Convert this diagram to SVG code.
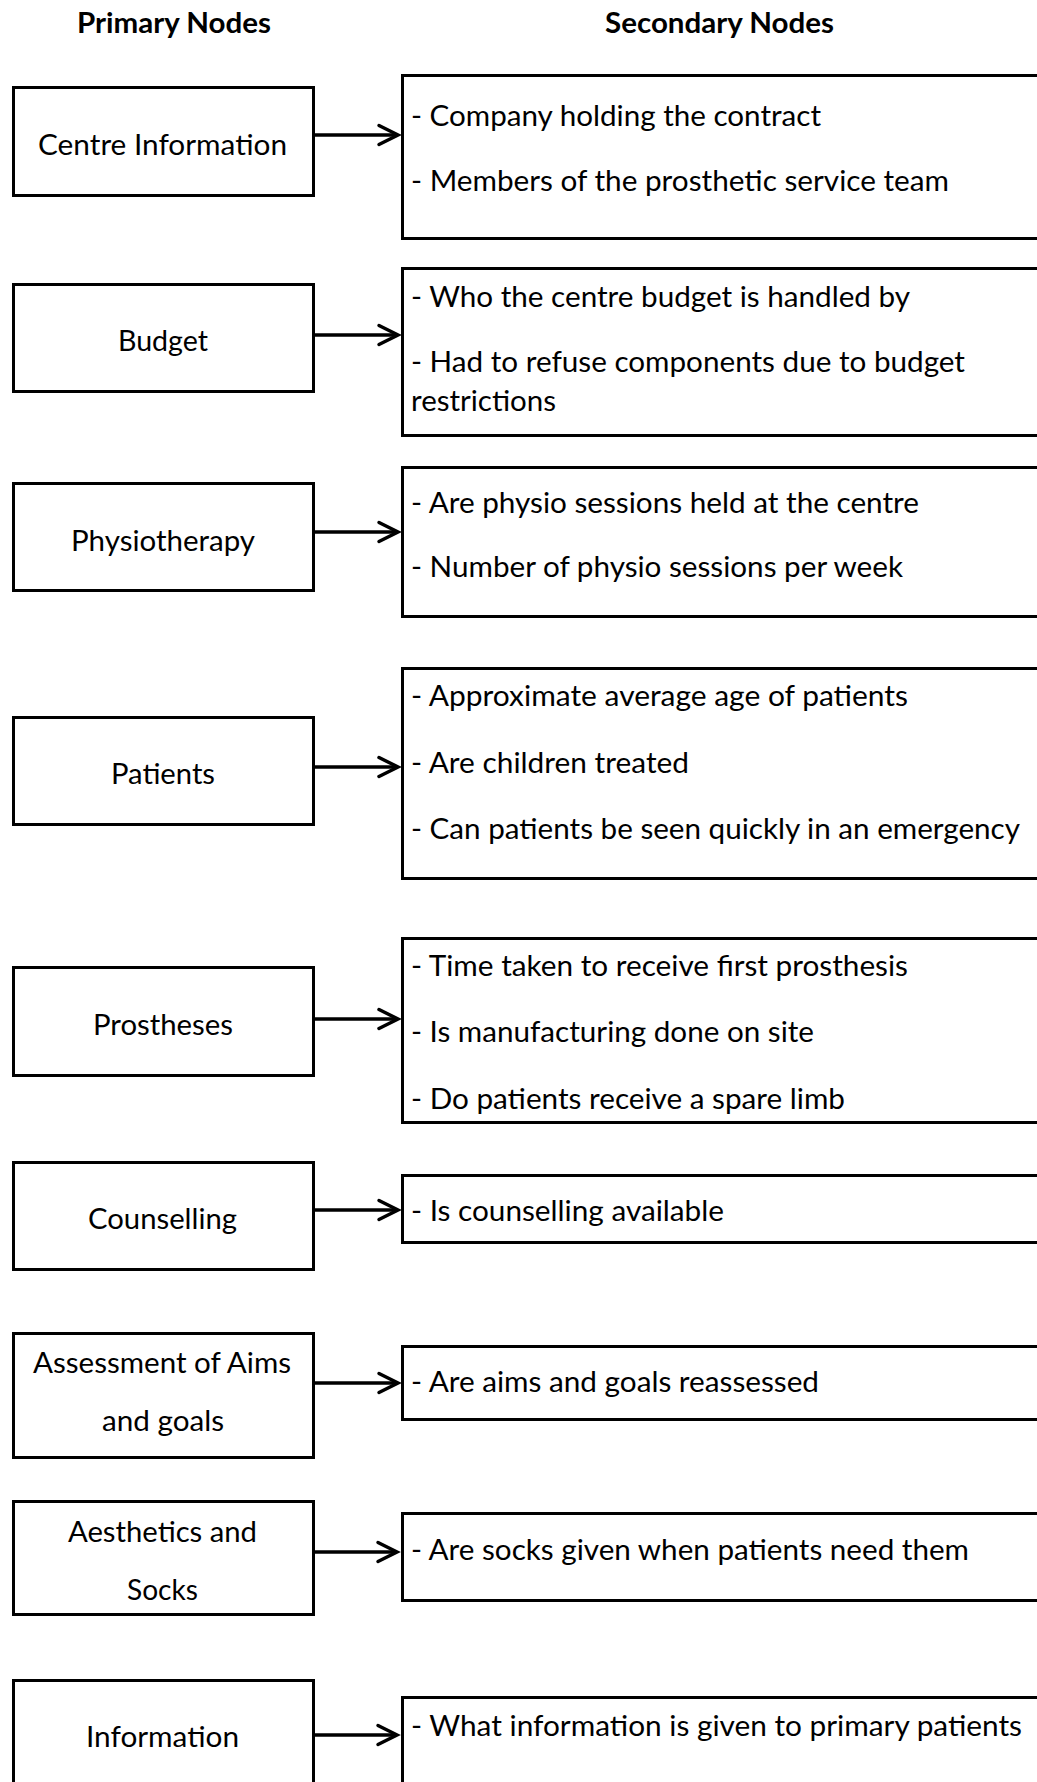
<svg xmlns="http://www.w3.org/2000/svg" width="1037" height="1782" viewBox="0 0 1037 1782">
  <style>
    .box { fill: #fff; stroke: #000; stroke-width: 3; }
    .head { font-family: Lato, "Open Sans", "Liberation Sans", sans-serif; font-weight: bold; font-size: 29px; fill: #000; text-anchor: middle; }
    .lbl { font-family: Lato, "Open Sans", "Liberation Sans", sans-serif; font-size: 29px; fill: #000; text-anchor: middle; }
    .item { font-family: Lato, "Open Sans", "Liberation Sans", sans-serif; font-size: 29px; fill: #000; }
    .conn { stroke: #000; stroke-width: 3.5; fill: none; }
  </style>
  <defs>
    <marker id="arrow" markerUnits="userSpaceOnUse" markerWidth="30" markerHeight="30" viewBox="-25 -15 30 30" refX="0" refY="0" orient="auto" overflow="visible">
      <path d="M-19,-9.5 L0,0 L-19,9.5" fill="none" stroke="#000" stroke-width="3.5" stroke-linecap="round"/>
    </marker>
  </defs>

  <rect x="0" y="0" width="1037" height="1782" fill="#fff"/>

  <!-- column headings -->
  <g id="headings">
    <text class="head" x="174" y="33" textLength="194" lengthAdjust="spacingAndGlyphs">Primary Nodes</text>
    <text class="head" x="719.5" y="33" textLength="229" lengthAdjust="spacingAndGlyphs">Secondary Nodes</text>
  </g>

  <!-- primary nodes -->
  <g id="p-centre-information">
    <rect class="box" x="13.5" y="87.5" width="300" height="108"/>
    <text class="lbl" x="162.5" y="155" textLength="249" lengthAdjust="spacingAndGlyphs">Centre Information</text>
  </g>
  <g id="p-budget">
    <rect class="box" x="13.5" y="284.5" width="300" height="107"/>
    <text class="lbl" x="163" y="351" textLength="90" lengthAdjust="spacingAndGlyphs">Budget</text>
  </g>
  <g id="p-physiotherapy">
    <rect class="box" x="13.5" y="483.5" width="300" height="107"/>
    <text class="lbl" x="163" y="551" textLength="184" lengthAdjust="spacingAndGlyphs">Physiotherapy</text>
  </g>
  <g id="p-patients">
    <rect class="box" x="13.5" y="717.5" width="300" height="107"/>
    <text class="lbl" x="163" y="784" textLength="104" lengthAdjust="spacingAndGlyphs">Patients</text>
  </g>
  <g id="p-prostheses">
    <rect class="box" x="13.5" y="967.5" width="300" height="108"/>
    <text class="lbl" x="163" y="1035" textLength="140" lengthAdjust="spacingAndGlyphs">Prostheses</text>
  </g>
  <g id="p-counselling">
    <rect class="box" x="13.5" y="1162.5" width="300" height="107"/>
    <text class="lbl" x="162.5" y="1229" textLength="149" lengthAdjust="spacingAndGlyphs">Counselling</text>
  </g>
  <g id="p-assessment">
    <rect class="box" x="13.5" y="1333.5" width="300" height="124"/>
    <text class="lbl" x="162" y="1373" textLength="258" lengthAdjust="spacingAndGlyphs">Assessment of Aims</text>
    <text class="lbl" x="163" y="1431" textLength="122" lengthAdjust="spacingAndGlyphs">and goals</text>
  </g>
  <g id="p-aesthetics">
    <rect class="box" x="13.5" y="1501.5" width="300" height="113"/>
    <text class="lbl" x="162.5" y="1542" textLength="189" lengthAdjust="spacingAndGlyphs">Aesthetics and</text>
    <text class="lbl" x="162.5" y="1600" textLength="71" lengthAdjust="spacingAndGlyphs">Socks</text>
  </g>
  <g id="p-information">
    <rect class="box" x="13.5" y="1680.5" width="300" height="140"/>
    <text class="lbl" x="162.5" y="1747" textLength="153" lengthAdjust="spacingAndGlyphs">Information</text>
  </g>

  <!-- secondary nodes (run off the right edge) -->
  <g id="s-centre-information">
    <rect class="box" x="402.5" y="75.5" width="700" height="163"/>
    <text class="item" x="411" y="126" textLength="410" lengthAdjust="spacingAndGlyphs">- Company holding the contract</text>
    <text class="item" x="411" y="191" textLength="538" lengthAdjust="spacingAndGlyphs">- Members of the prosthetic service team</text>
  </g>
  <g id="s-budget">
    <rect class="box" x="402.5" y="268.5" width="700" height="167"/>
    <text class="item" x="411" y="307" textLength="499" lengthAdjust="spacingAndGlyphs">- Who the centre budget is handled by</text>
    <text class="item" x="411" y="372" textLength="554" lengthAdjust="spacingAndGlyphs">- Had to refuse components due to budget</text>
    <text class="item" x="411" y="411" textLength="145" lengthAdjust="spacingAndGlyphs">restrictions</text>
  </g>
  <g id="s-physiotherapy">
    <rect class="box" x="402.5" y="467.5" width="700" height="149"/>
    <text class="item" x="411" y="513" textLength="508" lengthAdjust="spacingAndGlyphs">- Are physio sessions held at the centre</text>
    <text class="item" x="411" y="577" textLength="492" lengthAdjust="spacingAndGlyphs">- Number of physio sessions per week</text>
  </g>
  <g id="s-patients">
    <rect class="box" x="402.5" y="668.5" width="700" height="210"/>
    <text class="item" x="411" y="706" textLength="497" lengthAdjust="spacingAndGlyphs">- Approximate average age of patients</text>
    <text class="item" x="411" y="773" textLength="278" lengthAdjust="spacingAndGlyphs">- Are children treated</text>
    <text class="item" x="411" y="839" textLength="609" lengthAdjust="spacingAndGlyphs">- Can patients be seen quickly in an emergency</text>
  </g>
  <g id="s-prostheses">
    <rect class="box" x="402.5" y="938.5" width="700" height="184"/>
    <text class="item" x="411" y="976" textLength="497" lengthAdjust="spacingAndGlyphs">- Time taken to receive first prosthesis</text>
    <text class="item" x="411" y="1042" textLength="403" lengthAdjust="spacingAndGlyphs">- Is manufacturing done on site</text>
    <text class="item" x="411" y="1109" textLength="434" lengthAdjust="spacingAndGlyphs">- Do patients receive a spare limb</text>
  </g>
  <g id="s-counselling">
    <rect class="box" x="402.5" y="1175.5" width="700" height="67"/>
    <text class="item" x="411" y="1221" textLength="313" lengthAdjust="spacingAndGlyphs">- Is counselling available</text>
  </g>
  <g id="s-assessment">
    <rect class="box" x="402.5" y="1346.5" width="700" height="73"/>
    <text class="item" x="411" y="1392" textLength="408" lengthAdjust="spacingAndGlyphs">- Are aims and goals reassessed</text>
  </g>
  <g id="s-aesthetics">
    <rect class="box" x="402.5" y="1513.5" width="700" height="87"/>
    <text class="item" x="411" y="1560" textLength="558" lengthAdjust="spacingAndGlyphs">- Are socks given when patients need them</text>
  </g>
  <g id="s-information">
    <rect class="box" x="402.5" y="1697.5" width="700" height="140"/>
    <text class="item" x="411" y="1736" textLength="611" lengthAdjust="spacingAndGlyphs">- What information is given to primary patients</text>
  </g>

  <!-- connectors: primary to secondary -->
  <g id="connectors">
    <line class="conn" x1="315" y1="135" x2="398" y2="135" marker-end="url(#arrow)"/>
    <line class="conn" x1="315" y1="335" x2="398" y2="335" marker-end="url(#arrow)"/>
    <line class="conn" x1="315" y1="532" x2="398" y2="532" marker-end="url(#arrow)"/>
    <line class="conn" x1="315" y1="767" x2="398" y2="767" marker-end="url(#arrow)"/>
    <line class="conn" x1="315" y1="1019" x2="398" y2="1019" marker-end="url(#arrow)"/>
    <line class="conn" x1="315" y1="1210" x2="398" y2="1210" marker-end="url(#arrow)"/>
    <line class="conn" x1="315" y1="1383" x2="398" y2="1383" marker-end="url(#arrow)"/>
    <line class="conn" x1="315" y1="1552" x2="397" y2="1552" marker-end="url(#arrow)"/>
    <line class="conn" x1="315" y1="1735" x2="397" y2="1735" marker-end="url(#arrow)"/>
  </g>
</svg>
